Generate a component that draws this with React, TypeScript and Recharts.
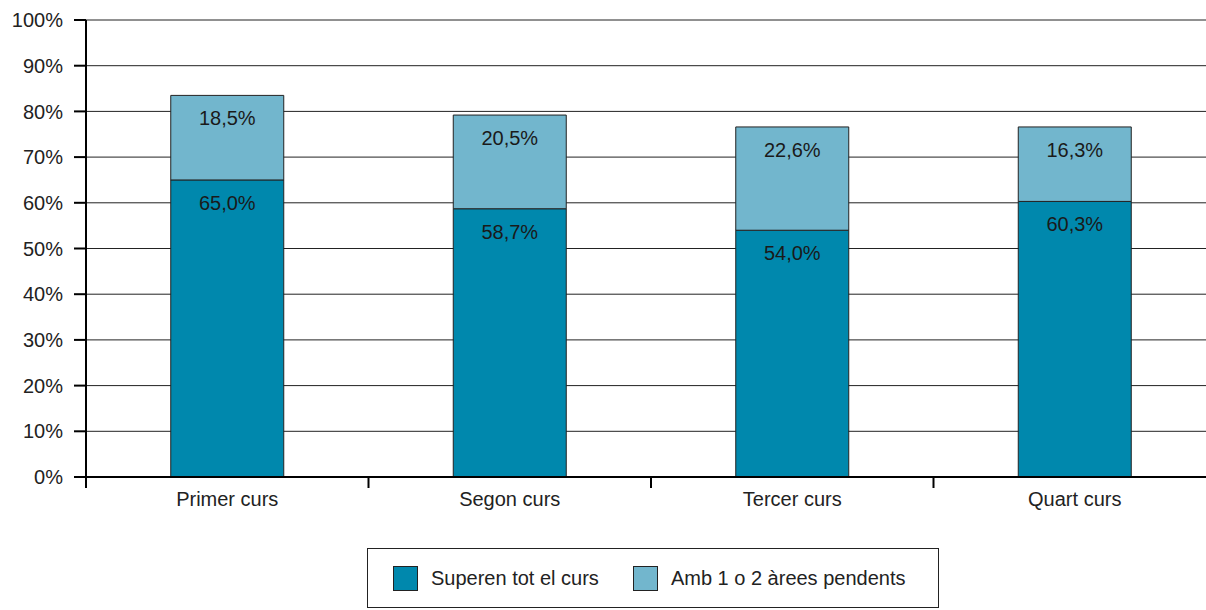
import React from 'react';
import { BarChart, Bar, XAxis, YAxis, CartesianGrid, Legend, LabelList } from 'recharts';

const categories = ['Primer curs', 'Segon curs', 'Tercer curs', 'Quart curs'];
const superen = [65.0, 58.7, 54.0, 60.3];
const pendents = [18.5, 20.5, 22.6, 16.3];
const yTicks = [0, 10, 20, 30, 40, 50, 60, 70, 80, 90, 100];
const seriesNames = ['Superen tot el curs', 'Amb 1 o 2 àrees pendents'];
const colors = ['#0088AD', '#72B6CD'];

const data = categories.map((c, i) => ({ name: c, superen: superen[i], pendents: pendents[i] }));

const FONT = '"Liberation Sans", Arial, sans-serif';
const FS = 20;
const fmt = (v: number) => v.toFixed(1).replace('.', ',') + '%';

const XTick = (props: any) => {
  const { x, y, payload, width, visibleTicksCount } = props;
  const band = width && visibleTicksCount ? width / visibleTicksCount : 282.5;
  const left = x - band / 2;
  return (
    <g>
      <line x1={left} x2={left} y1={y - 17} y2={y - 6} stroke="#000" strokeWidth={2} />
      <text x={x} y={y - 2} dy="0.71em" textAnchor="middle" fontSize={FS} fontFamily={FONT} fill="#222">
        {payload.value}
      </text>
    </g>
  );
};

const BarLabel = (props: any) => {
  const { x, y, width, value } = props;
  return (
    <text x={x + width / 2} y={y + 23} textAnchor="middle" dominantBaseline="central" fontSize={FS} fontFamily={FONT} fill="#1a1a1a">
      {fmt(value)}
    </text>
  );
};

const LegendBox = () => (
  <div
    style={{
      width: 572,
      height: 60,
      boxSizing: 'border-box',
      border: '1px solid #222',
      background: '#fff',
      display: 'flex',
      alignItems: 'center',
      paddingLeft: 25,
      fontFamily: FONT,
      fontSize: FS,
      color: '#222',
      whiteSpace: 'nowrap',
    }}
  >
    {seriesNames.map((n, i) => (
      <div key={n} style={{ display: 'flex', alignItems: 'center', marginRight: 34 }}>
        <div style={{ width: 25, height: 25, boxSizing: 'border-box', background: colors[i], border: '1px solid #222', marginRight: 13 }} />
        <span>{n}</span>
      </div>
    ))}
  </div>
);

export default function App() {
  return (
    <div style={{ position: 'absolute', left: 0, top: 0, width: 1206, height: 610, overflow: 'hidden', background: '#fff' }}>
      <BarChart width={1216} height={610} data={data} margin={{ top: 20, right: 0, left: 0, bottom: 93 }} barCategoryGap="30%">
        <CartesianGrid vertical={false} stroke="#222" strokeWidth={1} />
        <XAxis
          dataKey="name"
          axisLine={{ stroke: '#000', strokeWidth: 2 }}
          tickLine={false}
          tickSize={11}
          tickMargin={6}
          height={40}
          tick={<XTick />}
          interval={0}
        />
        <YAxis
          width={86}
          domain={[0, 100]}
          ticks={yTicks}
          interval={0}
          tickFormatter={(v: number) => `${v}%`}
          axisLine={{ stroke: '#000', strokeWidth: 2 }}
          tickLine={{ stroke: '#000', strokeWidth: 2 }}
          tickSize={12}
          tickMargin={11}
          tick={{ fontSize: FS, fontFamily: FONT, fill: '#222' }}
        />
        <Legend
          layout="horizontal"
          verticalAlign="middle"
          align="center"
          wrapperStyle={{ top: 548, left: 367, width: 572, height: 60 }}
          content={<LegendBox />}
        />
        <Bar dataKey="superen" name={seriesNames[0]} stackId="a" fill={colors[0]} stroke="#222" strokeWidth={1} isAnimationActive={false}>
          <LabelList dataKey="superen" content={<BarLabel />} />
        </Bar>
        <Bar dataKey="pendents" name={seriesNames[1]} stackId="a" fill={colors[1]} stroke="#222" strokeWidth={1} isAnimationActive={false}>
          <LabelList dataKey="pendents" content={<BarLabel />} />
        </Bar>
      </BarChart>
    </div>
  );
}
